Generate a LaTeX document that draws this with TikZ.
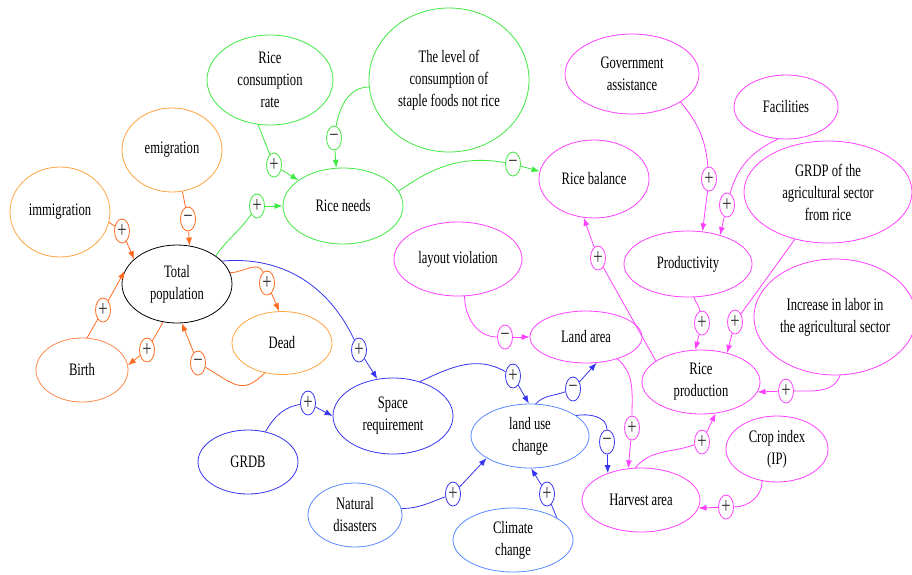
\documentclass[tikz,border=0pt]{standalone}
\usepackage{fontspec}
\setmainfont{Liberation Serif}[FakeStretch=0.72]
\usetikzlibrary{shapes.geometric,arrows.meta}

\definecolor{orng}{HTML}{FFA440}
\definecolor{orngdk}{HTML}{FF6A1F}
\definecolor{grn}{HTML}{3FE83F}
\definecolor{mgnt}{HTML}{FF40FF}
\definecolor{blu}{HTML}{3535F0}
\definecolor{lblu}{HTML}{5A8AFF}

\tikzset{
  var/.style={ellipse, draw, line width=0.8pt, inner sep=0pt, align=center,
    text=black, font=\fontsize{17.5}{22}\selectfont},
  sgn/.style={ellipse, draw, line width=0.8pt, inner sep=0pt, minimum width=15pt,
    minimum height=24pt, fill=white, text=black!80, font=\fontsize{23}{23}\selectfont},
  lnk/.style={line width=0.8pt},
  arr/.style={lnk, -{Latex[length=8pt,width=6pt]}},
}

\begin{document}
\begin{tikzpicture}[x=1pt, y=1pt]
    \useasboundingbox[fill=white] (0,0) rectangle (912,-574);

    % population
    \node[var, draw=orng, minimum width=100pt, minimum height=90pt]  (imm)   at (60,-212)  {immigration};
    \node[var, draw=orng, minimum width=100pt, minimum height=84pt]  (emi)   at (172,-150) {emigration};
    \node[var, draw=black, minimum width=110pt, minimum height=78pt] (tp)    at (177,-284) {Total\\population};
    \node[var, draw=orngdk!80, minimum width=92pt, minimum height=64pt] (birth) at (82,-370) {Birth};
    \node[var, draw=orng, minimum width=100pt, minimum height=63pt]  (dead)  at (282,-343) {Dead};

    % rice demand
    \node[var, draw=grn, minimum width=126pt, minimum height=90pt]  (rcr) at (270,-80)  {Rice\\consumption\\rate};
    \node[var, draw=grn, minimum width=160pt, minimum height=144pt] (stp) at (449,-80)  {The level of\\consumption of\\staple foods not rice};
    \node[var, draw=grn, minimum width=120pt, minimum height=76pt]  (rn)  at (343,-206) {Rice needs};

    % rice supply
    \node[var, draw=mgnt, minimum width=110pt, minimum height=78pt]  (rb)   at (594,-179) {Rice balance};
    \node[var, draw=mgnt, minimum width=134pt, minimum height=80pt]  (ga)   at (632,-74)  {Government\\assistance};
    \node[var, draw=mgnt, minimum width=104pt, minimum height=64pt]  (fac)  at (786,-107) {Facilities};
    \node[var, draw=mgnt, minimum width=168pt, minimum height=102pt] (grdp) at (828,-192) {GRDP of the\\agricultural sector\\from rice};
    \node[var, draw=mgnt, minimum width=128pt, minimum height=66pt]  (prod) at (688,-264) {Productivity};
    \node[var, draw=mgnt, minimum width=162pt, minimum height=116pt] (lab)  at (835,-317) {Increase in labor in\\the agricultural sector};
    \node[var, draw=mgnt, minimum width=128pt, minimum height=74pt]  (lv)   at (458,-259) {layout violation};
    \node[var, draw=mgnt, minimum width=112pt, minimum height=52pt]  (la)   at (586,-337) {Land area};
    \node[var, draw=mgnt, minimum width=118pt, minimum height=64pt]  (rp)   at (701,-382) {Rice\\production};
    \node[var, draw=mgnt, minimum width=102pt, minimum height=66pt]  (ci)   at (777,-449) {Crop index\\(IP)};
    \node[var, draw=mgnt, minimum width=118pt, minimum height=64pt]  (ha)   at (641,-500) {Harvest area};

    % land use
    \node[var, draw=blu, minimum width=120pt, minimum height=76pt]  (sr)   at (393,-416) {Space\\requirement};
    \node[var, draw=blu, minimum width=100pt, minimum height=64pt]  (grdb) at (248,-462) {GRDB};
    \node[var, draw=lblu, minimum width=118pt, minimum height=64pt] (luc)  at (530,-436) {land use\\change};
    \node[var, draw=lblu, minimum width=94pt, minimum height=64pt]  (nd)   at (355,-515) {Natural\\disasters};
    \node[var, draw=lblu, minimum width=120pt, minimum height=64pt] (cc)   at (513,-540) {Climate\\change};

    % signs
    \node[sgn, draw=orngdk] (imm_tp)   at (122,-231) {+};
    \node[sgn, draw=orngdk] (emi_tp)   at (188,-219) {−};
    \node[sgn, draw=orngdk] (birth_tp) at (103,-310) {+};
    \node[sgn, draw=orngdk] (tp_birth) at (147,-350) {+};
    \node[sgn, draw=orngdk] (dead_tp)  at (198,-363) {−};
    \node[sgn, draw=orngdk] (tp_dead)  at (267,-283) {+};
    \node[sgn, draw=grn] (tp_rn)  at (257,-206) {+};
    \node[sgn, draw=grn] (rcr_rn) at (274,-165) {+};
    \node[sgn, draw=grn] (stp_rn) at (334,-138) {−};
    \node[sgn, draw=grn] (rn_rb)  at (513,-164) {−};
    \node[sgn, draw=mgnt] (ga_prod)  at (709,-179) {+};
    \node[sgn, draw=mgnt] (fac_prod) at (727,-205) {+};
    \node[sgn, draw=mgnt] (grdp_rp)  at (735,-322) {+};
    \node[sgn, draw=mgnt] (prod_rp)  at (702,-323) {+};
    \node[sgn, draw=mgnt] (lab_rp)   at (786,-391) {+};
    \node[sgn, draw=mgnt] (rp_rb)    at (598,-258) {+};
    \node[sgn, draw=mgnt] (lv_la)    at (505,-337) {−};
    \node[sgn, draw=mgnt] (la_ha)    at (632,-428) {+};
    \node[sgn, draw=mgnt] (ha_rp)    at (702,-442) {+};
    \node[sgn, draw=mgnt] (ci_ha)    at (726,-507) {+};
    \node[sgn, draw=blu] (tp_sr)   at (359,-350) {+};
    \node[sgn, draw=blu] (grdb_sr) at (308,-403) {+};
    \node[sgn, draw=blu] (sr_luc)  at (513,-376) {+};
    \node[sgn, draw=blu] (luc_la)  at (573,-389) {−};
    \node[sgn, draw=blu] (luc_ha)  at (607,-442) {−};
    \node[sgn, draw=blu] (nd_luc)  at (453,-494) {+};
    \node[sgn, draw=blu] (cc_luc)  at (547,-494) {+};

    % population links
    \draw[lnk, orngdk] (imm.-12) -- (imm_tp);
    \draw[arr, orngdk] (imm_tp) -- (tp.150);
    \draw[lnk, orngdk] (emi.-76) -- (emi_tp);
    \draw[arr, orngdk] (emi_tp) -- (tp.72);
    \draw[lnk, orngdk] (birth.81) -- (birth_tp);
    \draw[arr, orngdk] (birth_tp) -- (tp.166);
    \draw[lnk, orngdk] (tp.-110) -- (tp_birth);
    \draw[arr, orngdk] (tp_birth) -- (birth.6);
    \draw[lnk, orngdk] (dead.-120) to[out=-135, in=-30, looseness=1.4] (dead_tp);
    \draw[arr, orngdk] (dead_tp) -- (tp.-83);
    \draw[lnk, orngdk] (tp.12) to[out=0, in=110] (tp_dead);
    \draw[arr, orngdk] (tp_dead) -- (dead.95);

    % demand links
    \draw[lnk, grn] (tp.36) to[out=55, in=-125] (tp_rn);
    \draw[arr, grn] (tp_rn) -- (rn.180);
    \draw[lnk, grn] (rcr.-105) -- (rcr_rn);
    \draw[arr, grn] (rcr_rn) -- (rn.150);
    \draw[lnk, grn] (stp.185) to[out=180, in=80] (stp_rn);
    \draw[arr, grn] (stp_rn) -- (rn.100);
    \draw[lnk, grn] (rn.15) to[out=35, in=170] (rn_rb);
    \draw[arr, grn] (rn_rb) -- (rb.172);

    % supply links
    \draw[lnk, mgnt] (ga.-30) to[out=-50, in=95] (ga_prod);
    \draw[arr, mgnt] (ga_prod) -- (prod.66);
    \draw[lnk, mgnt] (fac.-104) to[out=-155, in=75] (fac_prod);
    \draw[arr, mgnt] (fac_prod) -- (prod.42);
    \draw[lnk, mgnt] (grdp.-125) -- (grdp_rp);
    \draw[arr, mgnt] (grdp_rp) -- (rp.48);
    \draw[lnk, mgnt] (prod.-80) to[out=-70, in=100] (prod_rp);
    \draw[arr, mgnt] (prod_rp) -- (rp.100);
    \draw[lnk, mgnt] (lab.-85) to[out=-110, in=0] (lab_rp);
    \draw[arr, mgnt] (lab_rp) -- (rp.-10);
    \draw[lnk, mgnt] (rp.155) -- (rp_rb);
    \draw[arr, mgnt] (rp_rb) -- (rb.-105);
    \draw[lnk, mgnt] (lv.-80) to[out=-90, in=180] (lv_la);
    \draw[arr, mgnt] (lv_la) -- (la.180);
    \draw[lnk, mgnt] (la.-35) to[out=-40, in=90] (la_ha);
    \draw[arr, mgnt] (la_ha) -- (ha.112);
    \draw[lnk, mgnt] (ha.100) to[out=50, in=-160] (ha_rp);
    \draw[arr, mgnt] (ha_rp) -- (rp.-65);
    \draw[lnk, mgnt] (ci.-115) to[out=-90, in=0] (ci_ha);
    \draw[arr, mgnt] (ci_ha) -- (ha.-8);

    % land use links
    \draw[lnk, blu] (tp.27) to[out=5, in=115] (tp_sr);
    \draw[arr, blu] (tp_sr) -- (sr.113);
    \draw[lnk, blu] (grdb.60) to[out=60, in=190] (grdb_sr);
    \draw[arr, blu] (grdb_sr) -- (sr.180);
    \draw[lnk, blu] (sr.52) to[out=25, in=150] (sr_luc);
    \draw[arr, blu] (sr_luc) -- (luc.92);
    \draw[lnk, blu] (luc.80) to[out=45, in=200] (luc_la);
    \draw[arr, blu] (luc_la) -- (la.-68);
    \draw[lnk, blu] (luc.24) to[out=10, in=90] (luc_ha);
    \draw[arr, blu] (luc_ha) -- (ha.141);
    \draw[lnk, blu] (nd.8) to[out=0, in=200] (nd_luc);
    \draw[arr, blu] (nd_luc) -- (luc.-153);
    \draw[lnk, blu] (cc.27) -- (cc_luc);
    \draw[arr, blu] (cc_luc) -- (luc.-88);
\end{tikzpicture}
\end{document}
